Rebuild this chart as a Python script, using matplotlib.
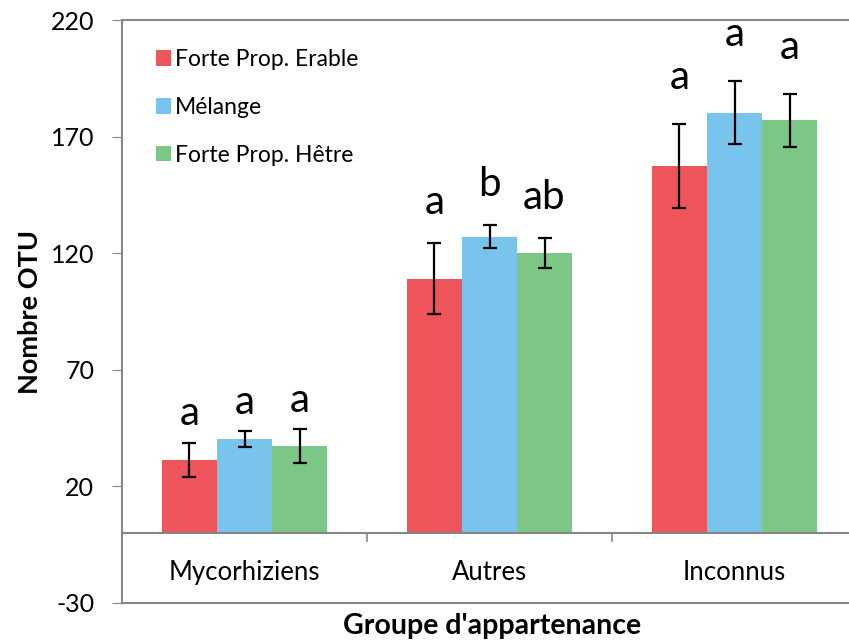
import numpy as np
import matplotlib.pyplot as plt

plt.rcParams['font.family'] = ['Lato', 'DejaVu Sans']
plt.rcParams['axes.unicode_minus'] = False

# data
groups = ['Mycorhiziens', 'Autres', 'Inconnus']
series = ['Forte Prop. Erable', 'Mélange', 'Forte Prop. Hêtre']
erable = [31.5, 109, 157.5]
melange = [40.3, 127, 180.3]
hetre = [37.2, 120, 177]
err_erable = [7.3, 15.2, 18.1]
err_melange = [3.4, 4.9, 13.5]
err_hetre = [7.3, 6.4, 11.4]
letters_erable = ['a', 'a', 'a']
letters_melange = ['a', 'b', 'a']
letters_hetre = ['a', 'ab', 'a']
colors = ['#EE555A', '#79C4EC', '#7CC686']

values = [erable, melange, hetre]
errors = [err_erable, err_melange, err_hetre]
letters = [letters_erable, letters_melange, letters_hetre]
letter_gap = [4.5, 9.5, 12]   # per group, letters were hand placed

fig = plt.figure(figsize=(8.49, 6.42), dpi=100)
ax = fig.add_axes([122/849, 39/642, 735/849, 583/642])

x = np.arange(len(groups))
w = 0.2245
for i, (vals, errs, col, lab) in enumerate(zip(values, errors, colors, series)):
    pos = x + (i - 1) * w
    ax.bar(pos, vals, width=w, color=col, label=lab, zorder=2)
    ax.errorbar(pos, vals, yerr=errs, fmt='none', ecolor='black',
                elinewidth=1.6, capsize=5, capthick=1.6, zorder=3)
    for j in range(len(groups)):
        ax.text(pos[j], vals[j] + errs[j] + letter_gap[j], letters[i][j],
                ha='center', va='bottom', fontsize=29)

ax.set_xlim(-0.5, 2.5)
ax.set_ylim(-30, 220)
ax.set_yticks(np.arange(-30, 221, 50))
ax.tick_params(axis='y', labelsize=18, length=7, color='#868686', pad=13)
ax.set_xticks([])

for s in ['left', 'top', 'bottom', 'right']:
    ax.spines[s].set_color('#868686')
    ax.spines[s].set_linewidth(1.5)

# zero line with category separators
ax.axhline(0, color='#868686', lw=1.5, zorder=4)
for b in x[:-1] + 0.5:
    ax.plot([b, b], [0, -3.5], color='#868686', lw=1.2)
for j, g in enumerate(groups):
    ax.text(x[j], -17, g, ha='center', va='center', fontsize=18.5)

ax.set_ylabel('Nombre OTU', fontsize=19.5, fontweight='bold')
ax.yaxis.set_label_coords(-0.109, 0.5)
fig.text(492/849, 1 - 626/642, "Groupe d'appartenance", ha='center', va='center',
         fontsize=20.5, fontweight='bold')

ax.legend(loc='upper left', bbox_to_anchor=(0.046, 0.95), frameon=False,
          fontsize=16.5, handlelength=0.65, handleheight=0.65, handletextpad=0.2,
          labelspacing=1.17, borderpad=0, borderaxespad=0)

fig.savefig('out.png', dpi=100)
